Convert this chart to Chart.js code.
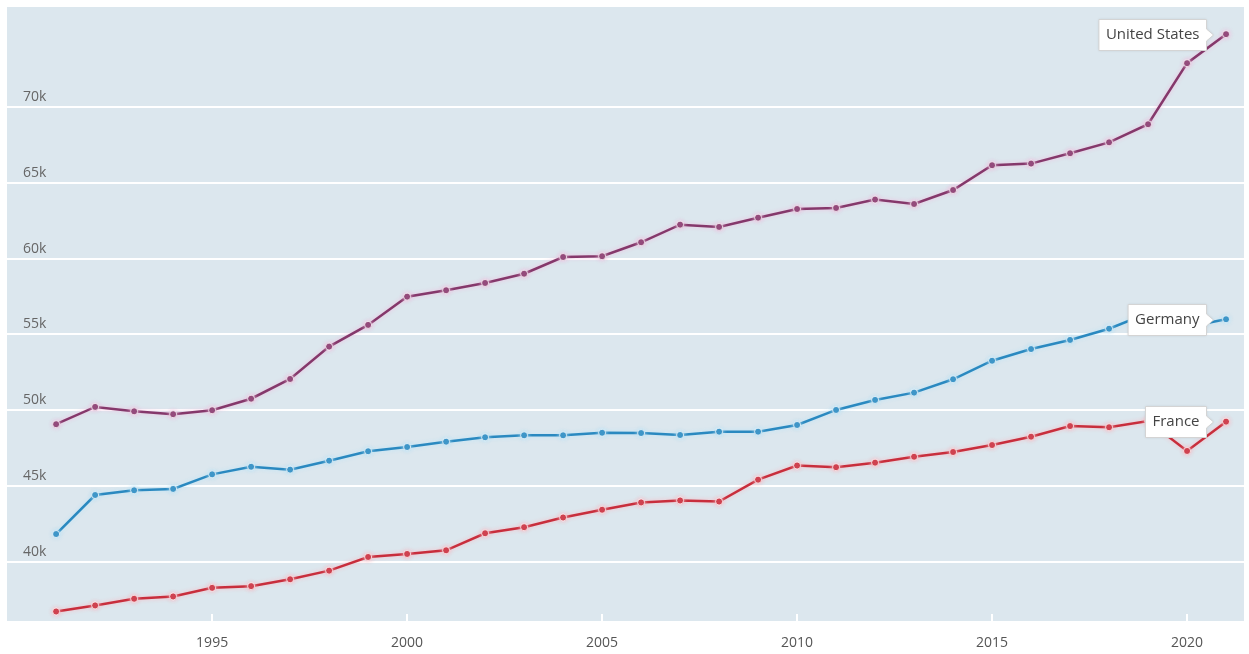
<!DOCTYPE html>
<html>
<head>
<meta charset="utf-8">
<title>GDP per capita</title>
<script src="https://cdn.jsdelivr.net/npm/chart.js@4.4.1/dist/chart.umd.min.js"></script>
<style>
    html, body { margin: 0; padding: 0; background: #ffffff; }
    #wrap { width: 1249px; height: 654px; }
</style>
</head>
<body>
<div id="wrap"><canvas id="gdp-chart"></canvas></div>
<script>
// yearly values, in dollars
const years = [1991, 1992, 1993, 1994, 1995, 1996, 1997, 1998, 1999, 2000,
    2001, 2002, 2003, 2004, 2005, 2006, 2007, 2008, 2009, 2010,
    2011, 2012, 2013, 2014, 2015, 2016, 2017, 2018, 2019, 2020, 2021];

const unitedStates = [49090, 50230, 49940, 49750, 50010, 50770, 52070, 54200, 55630, 57490,
    57910, 58390, 59000, 60100, 60150, 61070, 62230, 62080, 62690, 63260,
    63330, 63880, 63590, 64510, 66140, 66250, 66930, 67650, 68840, 72860, 74770];

const germany = [41860, 44430, 44740, 44830, 45790, 46290, 46100, 46690, 47310, 47590,
    47940, 48230, 48360, 48360, 48530, 48510, 48380, 48600, 48600, 49040,
    50030, 50690, 51170, 52050, 53270, 54040, 54640, 55380, 56400, 55500, 56000];

const france = [36760, 37160, 37600, 37750, 38320, 38430, 38880, 39450, 40350, 40550,
    40790, 41910, 42310, 42950, 43460, 43940, 44070, 44000, 45440, 46370,
    46260, 46560, 46950, 47260, 47720, 48270, 48970, 48890, 49300, 47330, 49260];

const seriesNames = ['United States', 'Germany', 'France'];
const seriesColors = ['#85386b', '#2a89c0', '#c82e3c'];
const haloColors = ['rgba(240, 190, 222, 0.95)', 'rgba(185, 228, 248, 0.95)', 'rgba(250, 185, 195, 0.95)'];

const xTicks = [1995, 2000, 2005, 2010, 2015, 2020];
const yTicks = [40000, 45000, 50000, 55000, 60000, 65000, 70000];

const toPoints = (values) => values.map((v, i) => ({ x: years[i], y: v }));

Chart.defaults.font.family = "'Open Sans', 'Noto Sans', sans-serif";
Chart.defaults.font.size = 14;
Chart.defaults.color = '#666666';

// light blue plot background, white tick marks on the bottom edge
const plotBackground = {
    id: 'plotBackground',
    beforeDraw(chart) {
        const { ctx, chartArea: a } = chart;
        ctx.save();
        ctx.fillStyle = '#dce7ee';
        ctx.fillRect(a.left, a.top, a.right - a.left, a.bottom - a.top);
        ctx.restore();
    },
    beforeDatasetsDraw(chart) {
        const { ctx, chartArea: a, scales } = chart;
        ctx.save();
        ctx.strokeStyle = '#ffffff';
        ctx.lineWidth = 2;
        xTicks.forEach((t) => {
            const px = Math.round(scales.x.getPixelForValue(t));
            ctx.beginPath();
            ctx.moveTo(px, a.bottom);
            ctx.lineTo(px, a.bottom - 7);
            ctx.stroke();
        });
        ctx.restore();
    }
};

// soft glow around each line
const lineHalo = {
    id: 'lineHalo',
    beforeDatasetDraw(chart, args) {
        const ctx = chart.ctx;
        ctx.save();
        ctx.shadowColor = haloColors[args.index];
        ctx.shadowBlur = 4;
    },
    afterDatasetDraw(chart) {
        chart.ctx.restore();
    }
};

// name tag pointing at the last point of each series
const endLabels = {
    id: 'endLabels',
    afterDatasetsDraw(chart) {
        const ctx = chart.ctx;
        ctx.save();
        ctx.font = "15px 'Open Sans', sans-serif";
        chart.data.datasets.forEach((ds, i) => {
            const meta = chart.getDatasetMeta(i);
            const last = meta.data[meta.data.length - 1];
            const w = ctx.measureText(ds.label).width + 14;
            const h = 31;
            const right = Math.round(last.x - 20) + 0.5;
            const left = right - w;
            const top = Math.round(last.y - h / 2) + 0.5;
            const cy = top + h / 2;

            ctx.beginPath();
            ctx.moveTo(left, top);
            ctx.lineTo(right, top);
            ctx.lineTo(right, cy - 6);
            ctx.lineTo(right + 7, cy);
            ctx.lineTo(right, cy + 6);
            ctx.lineTo(right, top + h);
            ctx.lineTo(left, top + h);
            ctx.closePath();
            ctx.shadowColor = 'rgba(0, 0, 0, 0.12)';
            ctx.shadowBlur = 3;
            ctx.fillStyle = '#ffffff';
            ctx.fill();
            ctx.shadowColor = 'transparent';
            ctx.strokeStyle = '#d4d4d4';
            ctx.lineWidth = 1;
            ctx.stroke();

            ctx.fillStyle = '#444444';
            ctx.textAlign = 'left';
            ctx.textBaseline = 'middle';
            ctx.fillText(ds.label, left + 7, cy);
        });
        ctx.restore();
    }
};

const makeDataset = (i, values) => ({
    label: seriesNames[i],
    data: toPoints(values),
    borderColor: seriesColors[i],
    backgroundColor: seriesColors[i],
    borderWidth: 2.5,
    pointRadius: 3.5,
    pointBorderWidth: 1,
    pointBorderColor: 'rgba(255, 255, 255, 0.75)',
    pointBackgroundColor: seriesColors[i],
    tension: 0
});

new Chart(document.getElementById('gdp-chart'), {
    type: 'line',
    data: {
        datasets: [
            makeDataset(0, unitedStates),
            makeDataset(1, germany),
            makeDataset(2, france)
        ]
    },
    options: {
        responsive: true,
        maintainAspectRatio: false,
        animation: false,
        layout: {
            padding: { left: 7, right: 5, top: 7, bottom: 0 }
        },
        plugins: {
            legend: { display: false },
            tooltip: { enabled: false }
        },
        scales: {
            x: {
                type: 'linear',
                min: 1989.74,
                max: 2021.46,
                afterBuildTicks: (scale) => {
                    scale.ticks = xTicks.map((v) => ({ value: v }));
                },
                afterFit: (scale) => {
                    scale.height = 33;
                    scale.paddingLeft = 0;
                    scale.paddingRight = 0;
                },
                ticks: {
                    color: '#555555',
                    padding: 14,
                    maxRotation: 0,
                    callback: (value) => String(value)
                },
                grid: { display: false, drawTicks: false },
                border: { display: false }
            },
            y: {
                min: 36135,
                max: 76560,
                afterBuildTicks: (scale) => {
                    scale.ticks = yTicks.map((v) => ({ value: v }));
                },
                afterFit: (scale) => {
                    scale.width = 0;
                    scale.paddingTop = 0;
                    scale.paddingBottom = 0;
                },
                ticks: {
                    mirror: true,
                    padding: 16,
                    labelOffset: -10,
                    color: '#666666',
                    callback: (value) => (value / 1000) + 'k'
                },
                grid: {
                    color: '#ffffff',
                    lineWidth: 2,
                    drawTicks: false
                },
                border: { display: false }
            }
        }
    },
    plugins: [plotBackground, lineHalo, endLabels]
});
</script>
</body>
</html>
